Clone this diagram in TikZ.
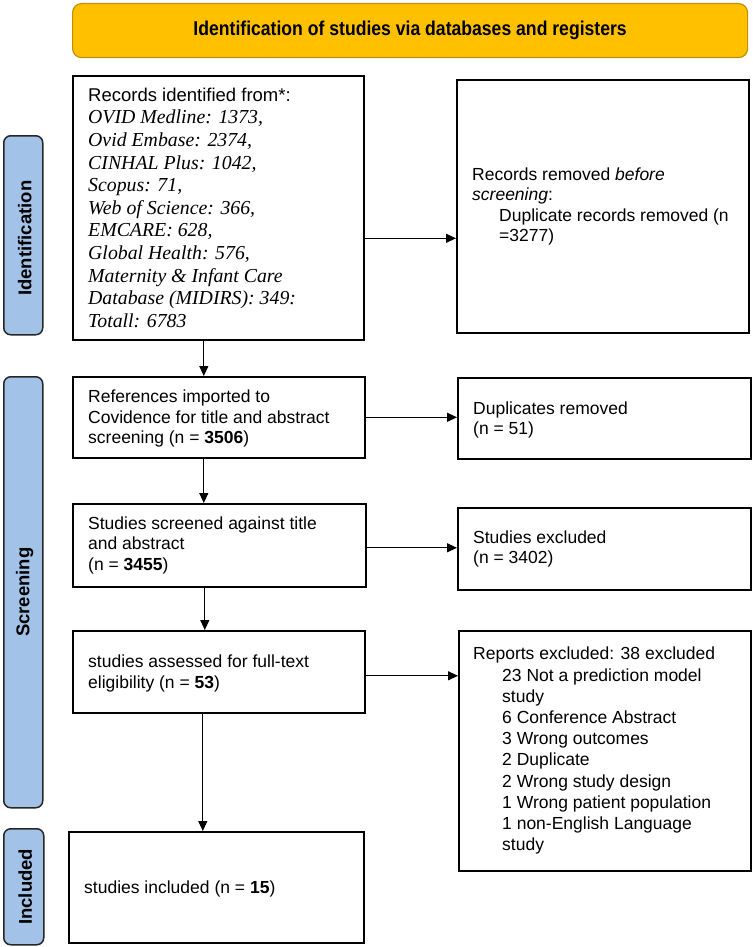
\documentclass[tikz,border=0pt]{standalone}
\usepackage{fontspec}
\usetikzlibrary{arrows.meta,calc}
\newfontfamily\arialf{Liberation Sans}
\newfontfamily\timesf{Liberation Serif}
\newfontfamily\titlef[FakeStretch=0.88]{Liberation Sans}
\definecolor{bannerfill}{HTML}{FFC000}
\definecolor{bannerline}{HTML}{BF9000}
\definecolor{sidefill}{HTML}{A2C3E7}
\tikzset{
  boxnode/.style={draw=black, line width=1.6pt, fill=white, anchor=north west, inner sep=0pt},
  txt/.style={anchor=west, align=left, inner sep=0pt, font=\arialf\fontsize{17.5}{20.5}\selectfont},
  sidebar/.style={draw=black!85, line width=1.5pt, fill=sidefill, rounded corners=7pt, anchor=north west, inner sep=0pt},
  sidetxt/.style={rotate=90, inner sep=0pt, font=\arialf\bfseries\fontsize{18.5}{21}\selectfont},
  arr/.style={line width=1.2pt, -{Triangle[length=10pt,width=9pt]}}
}
\begin{document}
\begin{tikzpicture}[x=1pt,y=-1pt]
\useasboundingbox (0,0) rectangle (752,947);

% banner
\node[draw=bannerline, line width=1.2pt, fill=bannerfill, rounded corners=9pt, anchor=north west,
      minimum width=675pt, minimum height=54pt, inner sep=0pt] (ban) at (72,3) {};
\node[font=\titlef\bfseries\fontsize{20}{24}\selectfont, inner sep=0pt] (bant) at (ban.center) {Identification of studies via databases and registers};

% side bars
\node[sidebar, minimum width=39pt, minimum height=199pt] (s1) at (3,135) {};
\node[sidetxt] (s1t) at ([xshift=1.5pt,yshift=-3pt]s1.center) {Identification};
\node[sidebar, minimum width=39pt, minimum height=431pt] (s2) at (3,376) {};
\node[sidetxt] (s2t) at ([xshift=1.5pt]s2.center) {Screening};
\node[sidebar, minimum width=40pt, minimum height=116pt] (s3) at (3,828) {};
\node[sidetxt] (s3t) at ([xshift=1.5pt]s3.center) {Included};

% boxes
\node[boxnode, minimum width=291pt, minimum height=264pt] (b1) at (72,75) {};
\node[txt, font=\timesf\itshape\fontsize{19.8}{22.6}\selectfont] (t1) at ([xshift=16pt]b1.west)
 {{\arialf\upshape\fontsize{18.5}{22.6}\selectfont Records identified from*:}\\
  OVID Medline: 1373,\\
  Ovid Embase: 2374,\\
  CINHAL Plus: 1042,\\
  Scopus: 71,\\
  Web of Science: 366,\\
  EMCARE: 628,\\
  Global Health: 576,\\
  Maternity \& Infant Care\\
  Database (MIDIRS): 349:\\
  Totall: 6783};

\node[boxnode, minimum width=292pt, minimum height=253pt] (b2) at (456,79) {};
\node[txt] (t2) at ([xshift=16pt]b2.west)
 {Records removed \textit{before}\\
  \textit{screening}:\\
  \hspace*{27pt}Duplicate records removed (n\\
  \hspace*{27pt}=3277)};

\node[boxnode, minimum width=292pt, minimum height=81pt] (b3) at (72,376) {};
\node[txt] (t3) at ([xshift=16pt,yshift=-1.5pt]b3.west)
 {References imported to\\
  Covidence for title and abstract\\
  screening (n = \textbf{3506})};

\node[boxnode, minimum width=293pt, minimum height=81pt] (b6) at (457,377) {};
\node[txt] (t6) at ([xshift=16pt,yshift=-1.5pt]b6.west)
 {Duplicates removed\\
  (n = 51)};

\node[boxnode, minimum width=293pt, minimum height=83pt] (b4) at (72,503) {};
\node[txt] (t4) at ([xshift=16pt]b4.west)
 {Studies screened against title\\
  and abstract\\
  (n = \textbf{3455})};

\node[boxnode, minimum width=293pt, minimum height=82pt] (b7) at (457,507) {};
\node[txt] (t7) at ([xshift=16pt]b7.west)
 {Studies excluded\\
  (n = 3402)};

\node[boxnode, minimum width=292pt, minimum height=82pt] (b5) at (72,630) {};
\node[txt] (t5) at ([xshift=16pt,yshift=-1.5pt]b5.west)
 {studies assessed for full-text\\
  eligibility (n = \textbf{53})};

\node[boxnode, minimum width=292pt, minimum height=240pt] (b8) at (458,630) {};
\node[txt, font=\arialf\fontsize{17.5}{21.2}\selectfont] (t8) at ([xshift=15pt]b8.west)
 {Reports excluded: 38 excluded\\
  \hspace*{29pt}23 Not a prediction model\\
  \hspace*{29pt}study\\
  \hspace*{29pt}6 Conference Abstract\\
  \hspace*{29pt}3 Wrong outcomes\\
  \hspace*{29pt}2 Duplicate\\
  \hspace*{29pt}2 Wrong study design\\
  \hspace*{29pt}1 Wrong patient population\\
  \hspace*{29pt}1 non-English Language\\
  \hspace*{29pt}study};

\node[boxnode, minimum width=295pt, minimum height=111pt] (b9) at (68,831) {};
\node[txt] (t9) at ([xshift=16pt,yshift=-1.5pt]b9.west)
 {studies included (n = \textbf{15})};

% arrows
\draw[arr] ([xshift=-14.5pt]b1.south) -- ([xshift=-14.5pt]b1.south |- b3.north);
\draw[arr] ([xshift=-15pt]b3.south) -- ([xshift=-15pt]b3.south |- b4.north);
\draw[arr] ([xshift=-14.5pt]b4.south) -- ([xshift=-14.5pt]b4.south |- b5.north);
\draw[arr] ([xshift=-16pt]b5.south) -- ([xshift=-16pt]b5.south |- b9.north);

\draw[arr] ([yshift=-30.5pt]b1.east) -- ([yshift=-30.5pt]b1.east -| b2.west);
\draw[arr] (b3.east) -- (b3.east -| b6.west);
\draw[arr] ([yshift=-2.5pt]b4.east) -- ([yshift=-2.5pt]b4.east -| b7.west);
\draw[arr] ([yshift=-4pt]b5.east) -- ([yshift=-4pt]b5.east -| b8.west);
\end{tikzpicture}
\end{document}
